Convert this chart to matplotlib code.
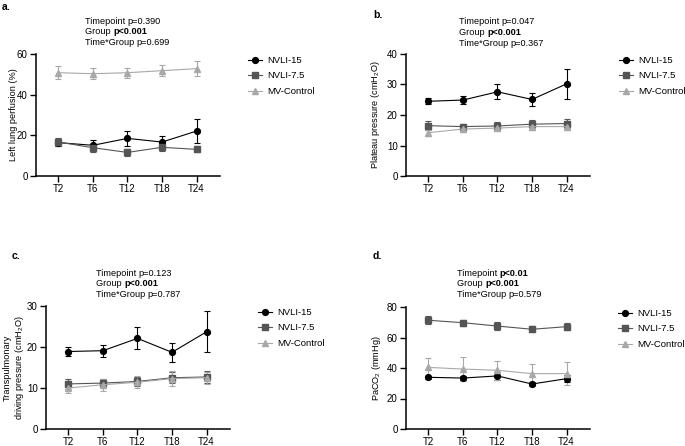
import numpy as np
import matplotlib
matplotlib.use("Agg")
from matplotlib import pyplot as plt
from matplotlib.lines import Line2D

plt.rcParams['font.family'] = ['Liberation Sans', 'DejaVu Sans']
plt.rcParams['mathtext.fontset'] = 'custom'
plt.rcParams['mathtext.rm'] = 'Liberation Sans'

timepoints = ['T2', 'T6', 'T12', 'T18', 'T24']
groups = ['NVLI-15', 'NVLI-7.5', 'MV-Control']

# a. left lung perfusion (%)
perf_mean = {'NVLI-15': [16.4, 15.1, 18.5, 16.7, 22.1],
             'NVLI-7.5': [16.7, 13.9, 11.6, 14.1, 13.1],
             'MV-Control': [50.8, 50.3, 50.8, 51.8, 52.8]}
perf_err = {'NVLI-15': [1.5, 2.4, 3.6, 3.1, 6.1],
            'NVLI-7.5': [2.0, 2.0, 1.8, 2.0, 1.3],
            'MV-Control': [3.3, 2.8, 2.5, 2.8, 3.7]}

# b. plateau pressure
plat_mean = {'NVLI-15': [24.5, 24.9, 27.6, 25.1, 30.2],
             'NVLI-7.5': [16.5, 16.2, 16.4, 17.0, 17.2],
             'MV-Control': [14.2, 15.4, 15.7, 16.2, 16.2]}
plat_err = {'NVLI-15': [1.0, 1.2, 2.4, 2.0, 4.8],
            'NVLI-7.5': [1.4, 1.0, 1.2, 1.4, 1.5],
            'MV-Control': [1.0, 1.0, 1.0, 1.2, 1.0]}

# c. transpulmonary driving pressure
tp_mean = {'NVLI-15': [18.9, 19.1, 22.1, 18.7, 23.7],
           'NVLI-7.5': [11.0, 11.2, 11.6, 12.5, 12.7],
           'MV-Control': [10.0, 10.8, 11.4, 12.3, 12.5]}
tp_err = {'NVLI-15': [1.2, 1.5, 2.7, 2.3, 5.0],
          'NVLI-7.5': [1.3, 1.0, 1.2, 1.3, 1.5],
          'MV-Control': [1.2, 1.5, 1.5, 1.8, 1.5]}

# d. PaCO2
co2_mean = {'NVLI-15': [33.9, 33.4, 34.8, 29.5, 33.0],
            'NVLI-7.5': [71.3, 69.7, 67.5, 65.4, 67.1],
            'MV-Control': [40.4, 39.3, 38.5, 36.3, 36.3]}
co2_err = {'NVLI-15': [1.0, 1.5, 2.5, 1.0, 2.5],
           'NVLI-7.5': [2.5, 2.0, 2.5, 2.0, 2.5],
           'MV-Control': [5.9, 7.7, 6.3, 6.5, 7.5]}

colors = {'NVLI-15': '#000000', 'NVLI-7.5': '#555555', 'MV-Control': '#a8a8a8'}
markers = {'NVLI-15': 'o', 'NVLI-7.5': 's', 'MV-Control': '^'}

W, H = 685, 446
fig = plt.figure(figsize=(W / 100, H / 100), dpi=100)


def rect(l, t, r, b):
    return [l / W, 1 - b / H, (r - l) / W, (b - t) / H]


def fx(x):
    return x / W


def fy(y):
    return 1 - y / H


panels = [
    dict(box=(36, 54, 220, 176), mean=perf_mean, err=perf_err, ymax=60, step=20,
         ylabel='Left lung perfusion (%)', ylx=-0.098, letter='a.', lpos=(2, 7),
         txt=(85, 21), leg=(248, 56),
         stats=[('Timepoint ', 'p=0.390', False), ('Group ', 'p<0.001', True),
                ('Time*Group ', 'p=0.699', False)]),
    dict(box=(406, 54, 590, 176), mean=plat_mean, err=plat_err, ymax=40, step=10,
         ylabel='Plateau pressure (cmH$_2$O)', ylx=-0.13, letter='b.', lpos=(373, 15),
         txt=(459, 22), leg=(619, 56),
         stats=[('Timepoint ', 'p=0.047', False), ('Group ', 'p<0.001', True),
                ('Time*Group ', 'p=0.367', False)]),
    dict(box=(46, 306, 230, 429), mean=tp_mean, err=tp_err, ymax=30, step=10,
         ylabel='Transpulmonary\ndriving pressure (cmH$_2$O)', ylx=-0.11, letter='c.',
         lpos=(12, 256), txt=(96, 273), leg=(258, 308),
         stats=[('Timepoint ', 'p=0.123', False), ('Group ', 'p<0.001', True),
                ('Time*Group ', 'p=0.787', False)]),
    dict(box=(406, 307, 590, 429), mean=co2_mean, err=co2_err, ymax=80, step=20,
         ylabel='PaCO$_2$ (mmHg)', ylx=-0.125, letter='d.', lpos=(373, 256),
         txt=(457, 273), leg=(618, 309),
         stats=[('Timepoint ', 'p<0.01', True), ('Group ', 'p<0.001', True),
                ('Time*Group ', 'p=0.579', False)]),
]

x = np.arange(len(timepoints))
for p in panels:
    ax = fig.add_axes(rect(*p['box']))
    for g in groups:
        ax.errorbar(x, p['mean'][g], yerr=p['err'][g], color=colors[g],
                    marker=markers[g], markersize=4.2, linewidth=0.8,
                    elinewidth=0.8, capsize=2.5, capthick=0.8)
    ax.set_xlim(-0.65, 4.68)
    ax.set_ylim(0, p['ymax'])
    ax.set_yticks(np.arange(0, p['ymax'] + 1, p['step']))
    ax.set_xticks(x)
    ax.set_xticklabels(timepoints)
    ax.spines['top'].set_visible(False)
    ax.spines['right'].set_visible(False)
    for s in ['left', 'bottom']:
        ax.spines[s].set_linewidth(1.1)
    ax.tick_params(labelsize=7, width=1.0, length=4, pad=2)
    ax.set_ylabel(p['ylabel'], fontsize=6.6, linespacing=1.1)
    ax.yaxis.set_label_coords(p['ylx'], 0.5)

    handles = [Line2D([], [], color=colors[g], marker=markers[g], markersize=4.2,
                      linewidth=0.8) for g in groups]
    ax.legend(handles, groups, loc='upper left',
              bbox_to_anchor=(fx(p['leg'][0]), fy(p['leg'][1])),
              bbox_transform=fig.transFigure, frameon=False, fontsize=6.8,
              handlelength=1.45, handletextpad=0.55, labelspacing=0.68,
              borderpad=0, borderaxespad=0)

    fig.text(fx(p['lpos'][0]), fy(p['lpos'][1]), p['letter'], fontsize=7.5,
             fontweight='bold', va='center', ha='left')
    tx, ty = p['txt']
    for i, (lab, val, bold) in enumerate(p['stats']):
        t = fig.text(fx(tx), fy(ty + i * 10.8), lab, fontsize=6.6, va='center', ha='left')
        ax.annotate(val, xy=(1, 0), xycoords=t, va='bottom', ha='left', fontsize=6.6,
                    fontweight='bold' if bold else 'normal', annotation_clip=False)

fig.savefig('out.png', dpi=100)
